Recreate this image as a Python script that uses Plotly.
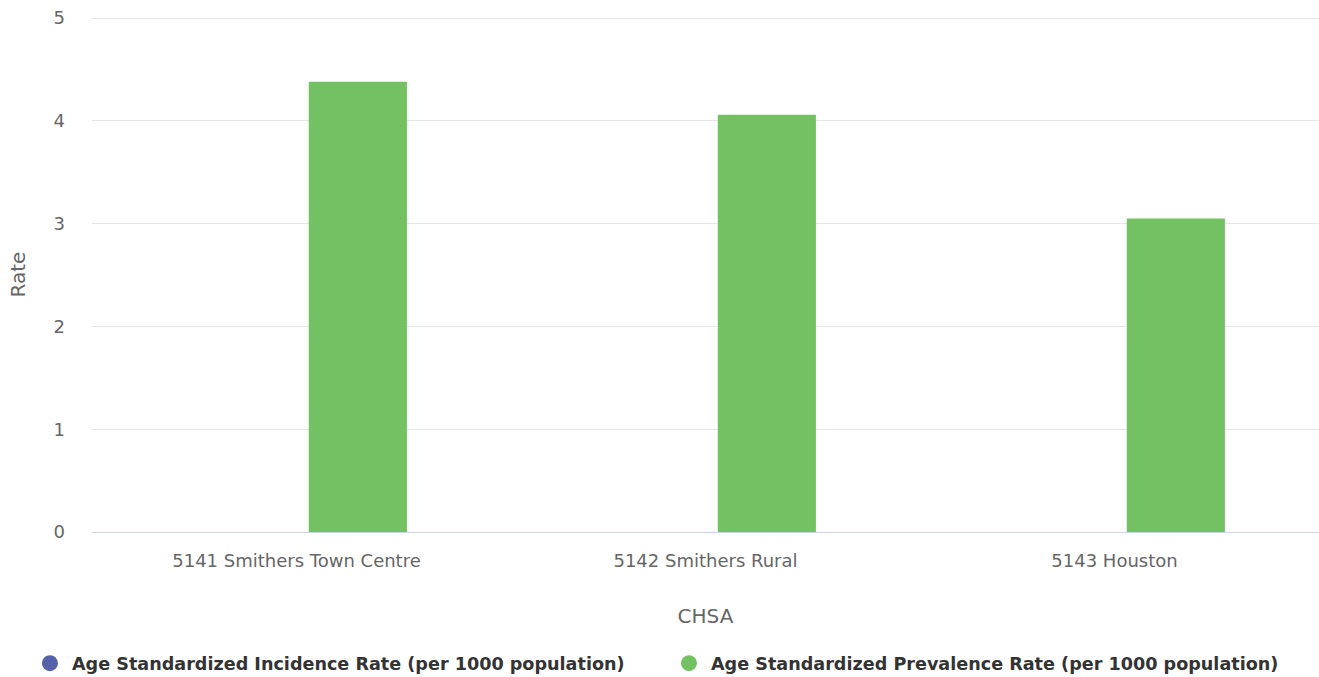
import plotly.graph_objects as go

categories = ["5141 Smithers Town Centre", "5142 Smithers Rural", "5143 Houston"]
incidence = [None, None, None]
prevalence = [4.38, 4.06, 3.05]
series_names = ["Age Standardized Incidence Rate (per 1000 population)",
                "Age Standardized Prevalence Rate (per 1000 population)"]
colors = ["#5562aa", "#74c163"]
y_ticks = [0, 1, 2, 3, 4, 5]

fig = go.Figure()
for name, vals, col in zip(series_names, [incidence, prevalence], colors):
    fig.add_trace(go.Bar(x=categories, y=vals, name=name, marker_color=col,
                         marker_line_width=0, showlegend=False))
for name, col, lg in zip(series_names, colors, ["legend", "legend2"]):
    fig.add_trace(go.Scatter(x=[None], y=[None], mode="markers", name=name,
                             legend=lg,
                             marker=dict(symbol="circle", size=16, color=col)))

legend_font = dict(family="DejaVu Sans", size=17.6, color="#333333", weight="bold")
fig.update_layout(
    width=1319, height=677,
    margin=dict(l=92, r=0, t=17, b=145, autoexpand=False),
    paper_bgcolor="white", plot_bgcolor="white",
    barmode="group", bargap=0.4, bargroupgap=0.2,
    font=dict(family="DejaVu Sans", color="#666666", size=18),
    xaxis=dict(showgrid=False, showline=True, linecolor="#ccd6eb", linewidth=1,
               ticks="", ticklabelstandoff=12, tickfont=dict(size=18, color="#666666"),
               title=dict(text="CHSA", font=dict(size=20, color="#666666"), standoff=39)),
    yaxis=dict(range=[0, 5.01], tickvals=y_ticks, showgrid=True, gridcolor="#e6e6e6",
               zeroline=False, ticks="", ticklabelstandoff=26,
               tickfont=dict(size=18, color="#666666"),
               title=dict(text="Rate", font=dict(size=20, color="#666666"), standoff=22)),
    legend=dict(orientation="h", x=-0.0522, xanchor="left", y=-0.2549, yanchor="middle",
                font=legend_font, itemwidth=34),
    legend2=dict(orientation="h", x=0.4686, xanchor="left", y=-0.2549, yanchor="middle",
                 font=legend_font, itemwidth=34),
)
fig.write_html("out.html", config={"displayModeBar": False},
               post_script="document.body.style.margin='0px';")
